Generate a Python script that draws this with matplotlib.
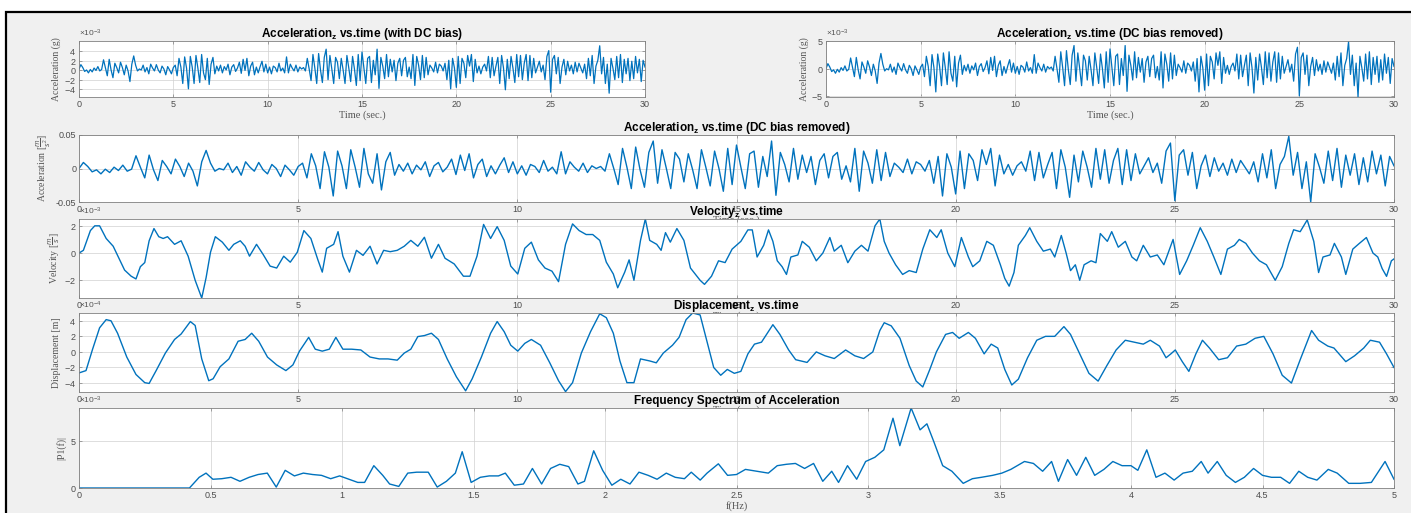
import numpy as np
import matplotlib
matplotlib.use("Agg")
import matplotlib.pyplot as plt
from matplotlib.patches import Rectangle

# sampling of the acceleration record (10 Hz, 30 s)
fs = 10
g = 9.81
dc_bias = 0.3e-3  # g

# acceleration, DC bias removed, in 1e-3 m/s^2 (one row per second)
acc_milli = [
    0, 9, 3, -5, -2, -8, -1, -6, 2, -3,
    5, -4, -1, 19, 2, -14, 20, -2, -18, 12,
    3, -8, 14, 3, -12, 8, -4, -26, 10, 27,
    8, -4, 0, -2, 8, -6, 3, -10, 10, 2,
    -4, 9, -2, -8, 6, 0, -12, 5, -2, -10,
    3, 8, -14, 22, 4, -30, 25, 2, -41, 26,
    4, -30, 28, 2, -28, 30, -8, -22, 22, -32,
    10, 24, -10, 6, -4, 8, -8, 5, -2, 10,
    -12, 4, 9, -5, 2, 14, -9, 20, -3, 22,
    -14, 6, 14, -12, 4, -8, 5, 16, -6, 10,
    -8, 4, -10, 6, 3, -6, 12, -4, 2, -8,
    25, -8, 10, 2, -4, 8, -6, 4, 0, 3,
    -4, 22, 0, -24, 30, 2, -30, 32, -2, -28,
    24, 41, -22, 28, 0, -30, 24, 14, -20, 22,
    -2, -30, 28, 2, -26, 26, 0, -34, 30, -24,
    35, 2, -30, 22, 26, -28, 18, -12, 41, -40,
    24, 6, -20, 30, -16, 20, -6, 18, -24, 12,
    22, -14, 18, 24, -16, 4, -20, 30, -34, 26,
    8, -22, 28, -18, 24, -12, 8, 2, -6, 14,
    -8, 10, 6, -4, 12, -22, 18, -41, 22, 2,
    -38, 26, -30, 22, 12, -18, 28, 6, 30, -26,
    20, -8, 6, -10, 4, 10, -4, 26, -18, 24,
    -14, 6, 24, -30, 28, 2, -43, 20, -20, 26,
    2, -28, 30, -16, 28, -22, 12, 30, -24, 28,
    -18, 22, -8, 4, 16, -6, 8, -22, 26, 38,
    -48, 20, 28, -10, 24, -30, 4, 20, -12, 16,
    -4, 8, -10, 14, -6, 12, 2, -8, 10, -20,
    22, -14, 28, -30, 6, 18, 48, -10, 24, -30,
    10, -50, 22, 2, -22, 26, -18, 30, -28, 20,
    -10, 22, -24, 16, -20, 26, -8, 20, -26, 18,
    4,
]

# velocity (1e-3 m/s)
vel_t = [0, 0.1, 0.26, 0.36, 0.47, 0.62, 0.78, 0.93, 1.04, 1.19, 1.3, 1.4, 1.5, 1.6, 1.71,
         1.82, 1.92, 2.02, 2.18, 2.33, 2.49, 2.65, 2.8, 2.9, 3.0, 3.11, 3.27, 3.42, 3.53,
         3.68, 3.79, 3.89, 4.05, 4.2, 4.36, 4.51, 4.67, 4.82, 4.98, 5.13, 5.29, 5.45, 5.55,
         5.65, 5.81, 5.91, 6.02, 6.17, 6.33, 6.48, 6.64, 6.8, 6.95, 7.1, 7.26, 7.42, 7.57,
         7.73, 7.88, 8.04, 8.2, 8.35, 8.56, 8.77, 8.92, 9.08, 9.23, 9.39, 9.54, 9.7, 9.85,
         10.01, 10.17, 10.32, 10.48, 10.63, 10.79, 10.94, 11.1, 11.26, 11.41, 11.57, 11.72,
         11.88, 12.03, 12.19, 12.29, 12.45, 12.55, 12.66, 12.81, 12.92, 13.02, 13.18, 13.28,
         13.38, 13.49, 13.64, 13.8, 13.95, 14.17, 14.27, 14.43, 14.59, 14.74, 14.9, 15.1,
         15.26, 15.36, 15.47, 15.62, 15.73, 15.83, 15.93, 16.04, 16.14, 16.24, 16.4, 16.5,
         16.66, 16.82, 16.97, 17.13, 17.23, 17.39, 17.54, 17.7, 17.85, 18.0, 18.16, 18.27,
         18.37, 18.48, 18.63, 18.79, 18.94, 19.1, 19.25, 19.41, 19.57, 19.67, 19.82, 19.98,
         20.13, 20.29, 20.39, 20.55, 20.71, 20.86, 21.02, 21.12, 21.22, 21.33, 21.43, 21.59,
         21.69, 21.85, 22.0, 22.16, 22.26, 22.41, 22.52, 22.62, 22.73, 22.83, 22.93, 23.09,
         23.2, 23.3, 23.46, 23.56, 23.71, 23.87, 24.02, 24.13, 24.28, 24.44, 24.6, 24.75,
         24.96, 25.11, 25.27, 25.42, 25.58, 25.74, 25.89, 26.05, 26.2, 26.36, 26.47, 26.62,
         26.77, 26.93, 27.09, 27.29, 27.45, 27.6, 27.71, 27.86, 28.02, 28.17, 28.28, 28.38,
         28.54, 28.64, 28.8, 28.9, 29.06, 29.21, 29.37, 29.52, 29.63, 29.73, 29.83, 29.94, 30.0]
vel_v = [0, 0.2, 1.65, 2.0, 2.0, 1.07, 0.5, -0.5, -1.25, -1.7, -1.9, -1.0, -0.7, 0.9, 1.8,
         1.2, 1.07, 1.2, 0.64, 0.9, -0.23, -2.0, -3.3, -1.8, 0.06, 1.2, 0.8, 0.2, 0.64,
         0.9, 0.5, -0.23, 0.64, -0.1, -0.96, -1.1, -0.23, -0.67, 0.06, 1.65, 1.07, -0.5, -1.4,
         0.35, 0.64, 1.57, -0.23, -1.4, 0.2, -0.17, 0.5, -0.8, 0.2, 0.1, 0.2, 0.5, 0.93,
         0.5, 1.16, -0.38, 0.64, -0.38, -0.8, -1.7, -1.7, -0.23, 2.1, 1.07, 1.94, 0.93, -0.96,
         -1.54, 0.35, 0.8, -0.5, -1.1, -1.33, -2.1, 0.64, 2.14, 1.65, 1.36, 1.36,
         0.93, -0.67, -1.54, -2.55, -1.4, -0.5, -2.0, 0.93, 2.5, 0.93, 0.64, 0.2,
         1.5, 0.8, 1.8, 0.93, -1.1, -2.0, -2.3, -1.7, -0.57, -0.7, 0.29, 0.86,
         1.7, 1.7, -0.29, 0.57, 1.7, 0.86, -0.57, -1.0, -1.57, -0.29, -0.14, 0.86,
         0.43, -0.57, 0.0, 1.14, 0.14, 0.57, -0.71, 0.14, 0.57, 0.14, 2.0, 2.5,
         0.86, 0.0, -0.86, -1.57, -1.29, -1.43, 0.29, 1.71, 1.14, 1.71, 0.0, -1.0,
         1.14, -0.29, -1.0, -0.57, 0.86, 0.57, -0.86, -1.86, -2.43, -1.43, 0.57, 1.29,
         1.86, 0.86, 0.14, 0.29, -0.29, 1.29, 0.0, -1.29, -0.86, -2.0, -0.86, -0.57,
         -0.71, 1.43, 0.86, 1.57, 0.43, 0.86, -0.29, -0.57, 0.57, -0.29, -0.14, -0.86,
         1.0, -1.57, -0.57, 0.57, 1.86, 0.86, -0.29, -1.57, 0.29, 0.57, 1.0, 0.71,
         0.0, -0.57, -0.86, -2.0, -1.0, 0.71, 1.71, 1.57, 2.43, 0.86, -1.43, -0.29,
         -0.14, 0.71, -0.29, -1.57, 0.29, 0.71, 1.14, 0.0, -0.29, -1.14, -1.71, -0.57, -0.43]

# displacement (1e-4 m)
disp_t = [0, 0.16, 0.31, 0.47, 0.62, 0.73, 0.88, 1.09, 1.3, 1.5, 1.6, 1.76, 1.97, 2.18, 2.33,
          2.54, 2.65, 2.8, 2.96, 3.06, 3.22, 3.42, 3.63, 3.79, 3.94, 4.1, 4.3, 4.51, 4.72,
          4.88, 5.03, 5.24, 5.39, 5.55, 5.71, 5.86, 6.02, 6.22, 6.43, 6.64, 6.85, 7.05, 7.26,
          7.42, 7.57, 7.73, 7.88, 8.04, 8.2, 8.4, 8.61, 8.82, 8.97, 9.18, 9.39, 9.54, 9.7,
          9.85, 10.01, 10.17, 10.32, 10.53, 10.74, 10.94, 11.1, 11.26, 11.46, 11.67, 11.88,
          12.03, 12.19, 12.34, 12.5, 12.66, 12.81, 13.02, 13.17, 13.33, 13.54, 13.69, 13.85,
          14.0, 14.17, 14.33, 14.48, 14.64, 14.79, 14.95, 15.1, 15.26, 15.41, 15.57, 15.83,
          15.99, 16.19, 16.35, 16.61, 16.82, 17.02, 17.23, 17.49, 17.7, 17.9, 18.11, 18.27,
          18.37, 18.53, 18.73, 18.94, 19.1, 19.25, 19.41, 19.56, 19.77, 19.93, 20.08, 20.29,
          20.45, 20.65, 20.81, 20.96, 21.12, 21.28, 21.43, 21.64, 21.85, 22.05, 22.26, 22.47,
          22.62, 22.83, 23.04, 23.25, 23.45, 23.66, 23.87, 24.08, 24.28, 24.44, 24.65, 24.8,
          24.91, 25.01, 25.17, 25.32, 25.48, 25.63, 25.79, 26.0, 26.2, 26.41, 26.62, 26.83,
          27.03, 27.24, 27.45, 27.66, 27.86, 28.12, 28.28, 28.49, 28.63, 28.9, 29.1, 29.31,
          29.46, 29.67, 29.83, 30.0]
disp_v = [-2.7, -2.4, 0.35, 3.1, 4.15, 4.0, 2.4, -0.66, -2.9, -3.95, -4.05, -2.4, -0.15, 1.6, 2.3,
          3.9, 3.4, -0.9, -3.7, -3.45, -1.9, -0.9, 1.37, 1.6, 2.4, 1.37, -0.66, -1.67, -2.4,
          -1.67, 0.1, 1.87, 0.35, 0.1, 0.35, 1.87, 0.35, 0.35, 0.25, -0.66, -0.9, -0.9, -1.06,
          -0.15, 0.35, 1.97, 2.1, 2.4, 1.6, -0.9, -3.2, -5.0, -3.45, -0.66, 2.4, 3.9, 2.6,
          0.86, 0.1, 1.1, 1.6, 0.86, -1.4, -3.7, -5.1, -3.95, -0.15, 2.6, 4.9,
          4.4, 2.4, -1.16, -3.95, -3.95, -0.9, -1.16, -1.4, -0.15, 0.86, 1.87, 4.15,
          5.0, 4.75, 1.25, -2.0, -3.0, -2.25, -2.75, -2.5, -0.25, 1.0, 1.25, 3.5,
          2.25, 0.25, -1.0, -1.35, 0.0, -0.5, -0.85, 0.25, -0.5, -0.85, 0.0, 2.75,
          3.75, 3.35, 1.75, -1.75, -3.75, -4.5, -2.25, 0.0, 2.25, 2.5, 1.75, 2.5,
          1.75, -0.25, 1.0, 0.5, -2.25, -4.25, -3.5, -0.75, 1.5, 2.0, 2.0, 3.25,
          2.25, -0.25, -2.75, -3.75, -1.75, 0.25, 1.5, 1.25, 1.0, 1.5, 0.75, -0.75,
          -0.25, 0.25, -1.25, -2.5, -0.25, 1.5, 0.5, -1.0, -0.75, 0.75, 1.0, 1.75,
          2.0, -0.25, -3.0, -4.0, -1.0, 2.75, 1.5, 0.75, 0.5, -1.25, -0.5, 0.5,
          1.5, 1.25, -0.25, -2.0]

# single-sided spectrum |P1(f)| (1e-3)
freq_f = [0, 0.42, 0.457, 0.483, 0.509, 0.543, 0.578, 0.612, 0.647, 0.681, 0.716, 0.75, 0.784,
          0.819, 0.853, 0.888, 0.922, 0.957, 0.991, 1.026, 1.06, 1.086, 1.121, 1.155, 1.181,
          1.216, 1.25, 1.284, 1.328, 1.362, 1.397, 1.431, 1.457, 1.491, 1.526, 1.56, 1.595,
          1.621, 1.655, 1.69, 1.724, 1.759, 1.793, 1.828, 1.862, 1.897, 1.922, 1.957, 1.991,
          2.026, 2.06, 2.095, 2.129, 2.164, 2.198, 2.233, 2.267, 2.302, 2.328, 2.362, 2.388,
          2.431, 2.466, 2.5, 2.534, 2.578, 2.621, 2.655, 2.69, 2.724, 2.759, 2.793, 2.828,
          2.862, 2.888, 2.922, 2.957, 2.991, 3.026, 3.06, 3.095, 3.121, 3.164, 3.198, 3.224,
          3.25, 3.284, 3.319, 3.362, 3.397, 3.431, 3.474, 3.509, 3.543, 3.595, 3.629, 3.664,
          3.698, 3.724, 3.759, 3.793, 3.828, 3.862, 3.897, 3.931, 3.966, 4.0, 4.026, 4.06,
          4.095, 4.129, 4.164, 4.198, 4.233, 4.267, 4.293, 4.328, 4.362, 4.397, 4.431, 4.466,
          4.5, 4.534, 4.569, 4.603, 4.638, 4.672, 4.707, 4.75, 4.784, 4.828, 4.871, 4.914,
          4.966, 5.0]
freq_p = [0, 0, 1.15, 1.6, 0.94, 1.0, 1.15, 0.72, 1.15, 1.45, 1.6, 0.1, 1.9,
          1.3, 1.6, 1.45, 1.36, 1.0, 1.3, 0.94, 0.6, 0.6, 2.4, 1.36, 0.43,
          0.17, 1.6, 1.7, 1.7, 0.1, 0.72, 1.6, 3.9, 0.6, 1.15, 1.3, 1.3,
          1.6, 0.3, 0.43, 2.1, 0.43, 2.1, 2.55, 2.3, 0.43, 0.72, 4.0, 1.9,
          0.3, 0.94, 0.43, 1.7, 1.36, 0.94, 1.6, 1.15, 1.0, 1.7, 0.85, 1.6,
          2.6, 1.36, 1.45, 2.0, 1.8, 1.6, 2.4, 2.55, 2.64, 2.1, 2.64, 0.72,
          1.8, 0.6, 2.4, 0.94, 2.85, 3.3, 4.1, 7.5, 4.55, 8.6, 6.25, 6.9,
          5.0, 2.4, 1.8, 0.5, 1.0, 1.15, 1.36, 1.6, 2.0, 2.85, 2.64, 1.8,
          2.85, 0.72, 3.06, 1.36, 3.3, 1.36, 2.0, 2.85, 2.4, 2.4, 1.9, 4.1,
          1.15, 1.6, 0.85, 1.6, 1.8, 2.85, 1.6, 2.85, 1.36, 0.6, 1.15, 2.1,
          1.36, 1.15, 1.15, 0.5, 1.8, 1.15, 0.85, 2.0, 1.6, 0.5, 0.5, 0.6,
          2.85, 0.94]

time_ticks = [0, 5, 10, 15, 20, 25, 30]
freq_ticks = [0, 0.5, 1, 1.5, 2, 2.5, 3, 3.5, 4, 4.5, 5]

LINE = "#0072BD"
TXT = "#4d4d4d"
SERIF = ["Liberation Serif", "DejaVu Serif"]
SANS = ["Liberation Sans", "DejaVu Sans"]

plt.rcParams["font.family"] = SANS
plt.rcParams["mathtext.fontset"] = "custom"
plt.rcParams["mathtext.rm"] = "Liberation Sans"
plt.rcParams["mathtext.bf"] = "Liberation Sans:bold"

W, H = 1411, 513
fig = plt.figure(figsize=(W / 100, H / 100), dpi=100, facecolor="white")
fig.patches.append(Rectangle((6 / W, -0.05), 1.1, 1 - 12 / H + 0.05, transform=fig.transFigure,
                             facecolor="#F0F0F0", edgecolor="black", linewidth=1.6, zorder=-10))


def box(x0, y0, x1, y1):
    return [x0 / W, 1 - y1 / H, (x1 - x0) / W, (y1 - y0) / H]


def style(ax, title, ylabel, xlabel=None, sci=True):
    ax.set_facecolor("white")
    for s in ax.spines.values():
        s.set_color("#808080")
        s.set_linewidth(0.6)
    ax.tick_params(direction="in", length=2.5, width=0.5, colors="#808080",
                   labelcolor=TXT, labelsize=6.5, pad=2, top=True, right=True)
    ax.grid(True, color="#d0d0d0", linewidth=0.5)
    ax.set_axisbelow(True)
    ax.set_title(title, fontsize=8.5, fontweight="bold", color="black", pad=3)
    ax.set_ylabel(ylabel, fontsize=7, family=SERIF, color="#555555", labelpad=2)
    if xlabel:
        ax.set_xlabel(xlabel, fontsize=7.5, family=SERIF, color="#555555", labelpad=1)
    if sci:
        ax.ticklabel_format(axis="y", style="sci", scilimits=(0, 0), useMathText=True)
        ax.yaxis.get_offset_text().set_fontsize(6)
        ax.yaxis.get_offset_text().set_color("#555555")


t = np.arange(len(acc_milli)) / fs
acc_ms2 = np.array(acc_milli) * 1e-3
acc_g = acc_ms2 / g

# row 1 left: with DC bias
ax1 = fig.add_axes(box(79, 41, 645, 97))
ax1.plot(t, acc_g + dc_bias, color=LINE, lw=0.9)
ax1.set_xlim(0, 30)
ax1.set_ylim(-5.6e-3, 6.2e-3)
ax1.set_xticks(time_ticks)
ax1.set_yticks([-4e-3, -2e-3, 0, 2e-3, 4e-3])
style(ax1, r"Acceleration$_{\mathbf{z}}$ vs.time (with DC bias)", "Acceleration (g)", "Time (sec.)")

# row 1 right: DC bias removed
ax2 = fig.add_axes(box(826, 41, 1394, 97))
ax2.plot(t, acc_g, color=LINE, lw=0.9)
ax2.set_xlim(0, 30)
ax2.set_ylim(acc_g.min(), acc_g.max())
ax2.set_xticks(time_ticks)
ax2.set_yticks([-5e-3, 0, 5e-3])
style(ax2, r"Acceleration$_{\mathbf{z}}$ vs.time (DC bias removed)", "Acceleration (g)", "Time (sec.)")

# row 2: acceleration in m/s^2
ax3 = fig.add_axes(box(79, 135, 1394, 202))
ax3.plot(t, acc_ms2, color=LINE, lw=1.0)
ax3.set_xlim(0, 30)
ax3.set_ylim(-0.05, 0.05)
ax3.set_xticks(time_ticks)
ax3.set_yticks([-0.05, 0, 0.05])
ax3.set_yticklabels(["-0.05", "0", "0.05"])
style(ax3, r"Acceleration$_{\mathbf{z}}$ vs.time (DC bias removed)",
      r"Acceleration [$\frac{m}{s^2}$]", "Time (sec.)", sci=False)

# row 3: velocity
ax4 = fig.add_axes(box(79, 219, 1394, 298))
ax4.plot(vel_t, np.array(vel_v) * 1e-3, color=LINE, lw=1.0)
ax4.set_xlim(0, 30)
ax4.set_ylim(-3.3e-3, 2.5e-3)
ax4.set_xticks(time_ticks)
ax4.set_yticks([-2e-3, 0, 2e-3])
style(ax4, r"Velocity$_{\mathbf{z}}$ vs.time", r"Velocity [$\frac{m}{s}$]", "Time (sec.)")

# row 4: displacement
ax5 = fig.add_axes(box(79, 313, 1394, 392))
ax5.plot(disp_t, np.array(disp_v) * 1e-4, color=LINE, lw=1.0)
ax5.set_xlim(0, 30)
ax5.set_ylim(-5.15e-4, 5.0e-4)
ax5.set_xticks(time_ticks)
ax5.set_yticks([-4e-4, -2e-4, 0, 2e-4, 4e-4])
style(ax5, r"Displacement$_{\mathbf{z}}$ vs.time", "Displacement [m]", "Time (sec.)")

# row 5: spectrum
ax6 = fig.add_axes(box(79, 408, 1394, 488))
ax6.plot(freq_f, np.array(freq_p) * 1e-3, color=LINE, lw=1.0)
ax6.set_xlim(0, 5)
ax6.set_ylim(0, 8.6e-3)
ax6.set_xticks(freq_ticks)
ax6.set_xticklabels(["%g" % f for f in freq_ticks])
ax6.set_yticks([0, 5e-3])
style(ax6, "Frequency Spectrum of Acceleration", "|P1(f)|", "f(Hz)")

fig.savefig("out.png", dpi=100, facecolor=fig.get_facecolor())
